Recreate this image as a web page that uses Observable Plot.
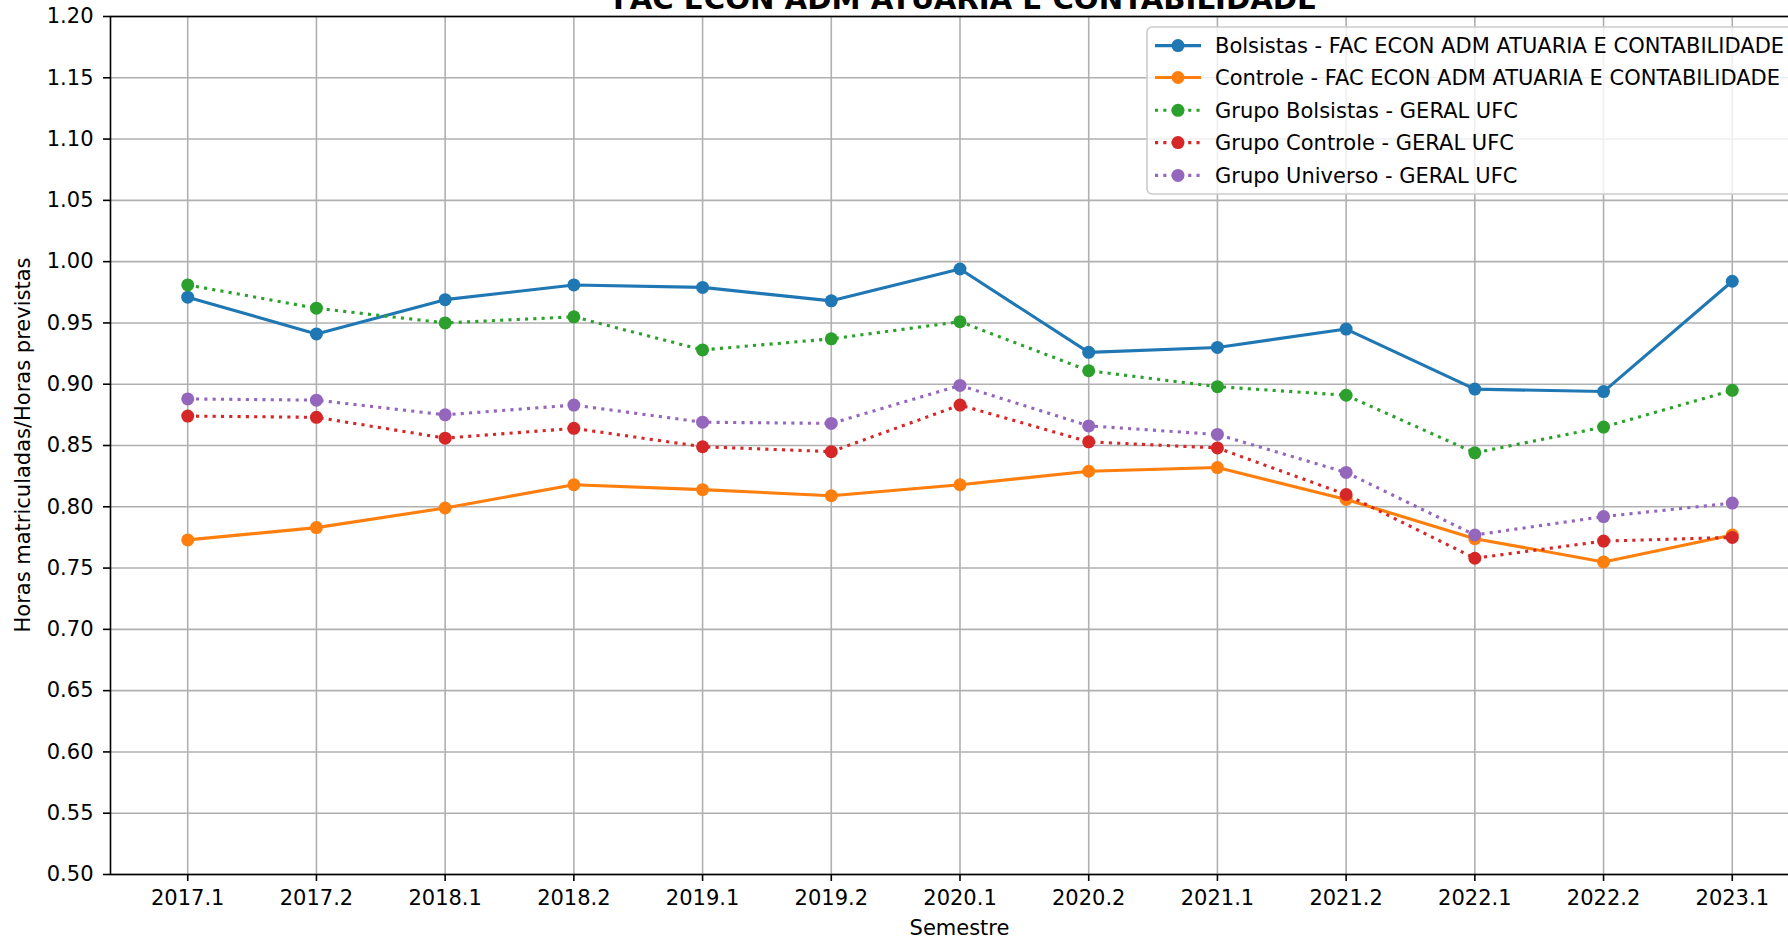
<!DOCTYPE html>
<html><head><meta charset="utf-8">
<script src="https://cdn.jsdelivr.net/npm/d3@7"></script>
<script src="https://cdn.jsdelivr.net/npm/@observablehq/plot@0.6"></script>
<style>
html,body{margin:0;padding:0;overflow:hidden;background:#fff;}
#chart{position:relative;width:1788px;height:937px;overflow:hidden;}
#chart svg{display:block;max-width:none !important;}
</style></head><body><div id="chart"></div>
<script>
const title = "FAC ECON ADM ATUARIA E CONTABILIDADE";
const xLabel = "Semestre";
const yLabel = "Horas matriculadas/Horas previstas";
const semesters = ["2017.1","2017.2","2018.1","2018.2","2019.1","2019.2","2020.1","2020.2","2021.1","2021.2","2022.1","2022.2","2023.1"];
const yTicks = [0.50,0.55,0.60,0.65,0.70,0.75,0.80,0.85,0.90,0.95,1.00,1.05,1.10,1.15,1.20];

const bolsistasFac   = [0.971,0.941,0.969,0.981,0.979,0.968,0.994,0.926,0.930,0.945,0.896,0.894,0.984];
const controleFac    = [0.773,0.783,0.799,0.818,0.814,0.809,0.818,0.829,0.832,0.806,0.774,0.755,0.777];
const bolsistasGeral = [0.981,0.962,0.950,0.955,0.928,0.937,0.951,0.911,0.898,0.891,0.844,0.865,0.895];
const controleGeral  = [0.874,0.873,0.856,0.864,0.849,0.845,0.883,0.853,0.848,0.810,0.758,0.772,0.775];
const universoGeral  = [0.888,0.887,0.875,0.883,0.869,0.868,0.899,0.866,0.859,0.828,0.777,0.792,0.803];

const seriesNames = [
  "Bolsistas - FAC ECON ADM ATUARIA E CONTABILIDADE",
  "Controle - FAC ECON ADM ATUARIA E CONTABILIDADE",
  "Grupo Bolsistas - GERAL UFC",
  "Grupo Controle - GERAL UFC",
  "Grupo Universo - GERAL UFC"
];
const seriesValues = [bolsistasFac, controleFac, bolsistasGeral, controleGeral, universoGeral];
const seriesColors = ["#1f77b4","#ff7f0e","#2ca02c","#d62728","#9467bd"];
const seriesDotted = [false,false,true,true,true];

const LW = 3.1, DASH = "3.1,5.2", R = 6.5, FS = 21;

const seriesMarks = [];
seriesNames.forEach((name, i) => {
  const rows = semesters.map((s, j) => ({semestre: s, valor: seriesValues[i][j]}));
  seriesMarks.push(Plot.line(rows, {x: "semestre", y: "valor", stroke: seriesColors[i], strokeWidth: LW,
    strokeDasharray: seriesDotted[i] ? DASH : null, strokeLinecap: "butt", strokeLinejoin: "round"}));
  seriesMarks.push(Plot.dot(rows, {x: "semestre", y: "valor", r: R, fill: seriesColors[i], stroke: "none"}));
});

const W = 1830, H = 937;
const svg = Plot.plot({
  width: W, height: H,
  marginLeft: 110, marginRight: 21, marginTop: 16, marginBottom: 63,
  style: {fontFamily: "DejaVu Sans", fontSize: FS + "px", color: "#000", background: "white", maxWidth: "none"},
  x: {type: "point", domain: semesters, padding: 0.6, round: false, label: null},
  y: {domain: [0.5, 1.2], label: null},
  marks: [
    Plot.gridX(semesters, {stroke: "#b0b0b0", strokeOpacity: 1, strokeWidth: 1.6}),
    Plot.gridY(yTicks, {stroke: "#b0b0b0", strokeOpacity: 1, strokeWidth: 1.6}),
    ...seriesMarks,
    Plot.frame({stroke: "black", strokeWidth: 1.6}),
    Plot.axisX(semesters, {tickSize: 7, tickPadding: 9, strokeWidth: 1.6, label: null, fontSize: FS}),
    Plot.axisY(yTicks, {tickSize: 7, tickPadding: 10, strokeWidth: 1.6, tickFormat: d => d.toFixed(2), label: null, fontSize: FS})
  ]
});
svg.style.maxWidth = "none";
svg.setAttribute("width", W);
svg.setAttribute("height", H);

const s = d3.select(svg);
s.append("text").attr("x", 965).attr("y", 8.6).attr("text-anchor", "middle")
  .attr("font-family", "DejaVu Sans").attr("font-weight", "bold").attr("font-size", 29.2).attr("fill", "#000").text(title);
s.append("text").attr("x", 959.5).attr("y", 935).attr("text-anchor", "middle")
  .attr("font-family", "DejaVu Sans").attr("font-size", FS).attr("fill", "#000").text(xLabel);
s.append("text").attr("transform", "translate(30,445) rotate(-90)").attr("text-anchor", "middle")
  .attr("font-family", "DejaVu Sans").attr("font-size", FS).attr("fill", "#000").text(yLabel);

// legend
const lg = s.append("g");
lg.append("rect").attr("x", 1147).attr("y", 27).attr("width", 700).attr("height", 167).attr("rx", 5)
  .attr("fill", "white").attr("fill-opacity", 0.8).attr("stroke", "#cccccc").attr("stroke-width", 1.6);
const rowY = [45.6, 77.5, 110.3, 142.6, 175.4];
seriesNames.forEach((name, i) => {
  const y = rowY[i];
  lg.append("line").attr("x1", 1155).attr("x2", 1201).attr("y1", y).attr("y2", y)
    .attr("stroke", seriesColors[i]).attr("stroke-width", LW)
    .attr("stroke-dasharray", seriesDotted[i] ? DASH : null);
  lg.append("circle").attr("cx", 1178).attr("cy", y).attr("r", R).attr("fill", seriesColors[i]);
  lg.append("text").attr("x", 1215).attr("y", y + 7.5).attr("text-anchor", "start").attr("font-family", "DejaVu Sans").attr("font-size", FS)
    .attr("fill", "#000").text(name);
});

document.getElementById("chart").appendChild(svg);
</script></body></html>
